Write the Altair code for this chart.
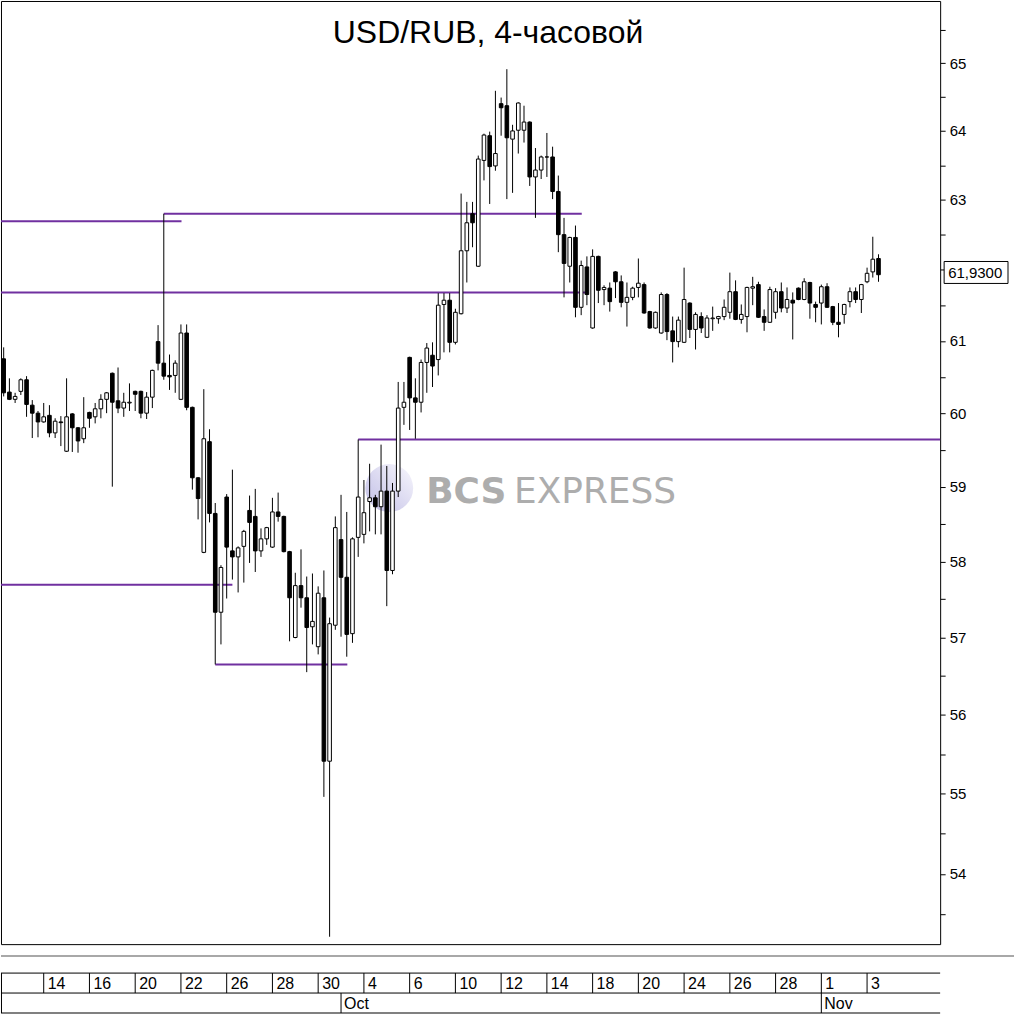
import altair as alt
import pandas as pd

# 4-hour USD/RUB candles, one entry per bar (open, high, low, close)
opens = [60.75, 60.29, 60.19, 60.30, 60.46, 60.11, 60.00, 59.88, 59.97, 59.73,
         59.88, 59.48, 59.99, 59.80, 59.65, 60.01, 59.95, 60.06, 60.19, 60.55,
         60.17, 60.07, 60.14, 60.30, 60.30, 60.00, 60.22, 60.99, 60.69, 60.52,
         60.52, 60.19, 61.11, 60.08, 59.12, 58.12, 59.61, 58.64, 57.33, 58.86,
         58.14, 58.06, 58.20, 58.68, 58.60, 58.14, 58.30, 58.19, 58.66, 58.60,
         58.13, 57.00, 57.68, 57.52, 57.14, 56.88, 57.52, 55.41, 57.16, 58.29,
         57.79, 57.05, 58.32, 58.36, 58.80, 58.85, 58.73, 58.94, 57.88, 58.94,
         60.08, 60.77, 60.21, 60.15, 60.70, 60.80, 60.74, 61.51, 61.57, 60.98,
         61.38, 62.27, 62.80, 62.05, 63.57, 63.93, 63.49, 64.40, 64.37, 63.88,
         64.01, 64.01, 64.13, 63.33, 63.43, 63.62, 63.62, 63.12, 62.50, 62.05,
         62.46, 61.47, 62.04, 61.18, 62.19, 61.72, 61.74, 61.97, 61.83, 61.54,
         61.61, 61.75, 61.79, 61.41, 61.18, 61.11, 61.65, 61.14, 60.99, 60.98,
         61.53, 61.16, 61.34, 61.05, 61.31, 61.31, 61.34, 61.40, 61.69, 61.30,
         61.34, 61.74, 61.79, 61.34, 61.26, 61.40, 61.69, 61.46, 61.57, 61.74,
         61.58, 61.82, 61.51, 61.53, 61.76, 61.48, 61.26, 61.37, 61.55, 61.69,
         61.58, 61.83, 61.97, 62.16]
highs = [60.91, 60.48, 60.28, 60.48, 60.51, 60.18, 60.03, 60.14, 60.11, 59.93,
         59.96, 60.48, 60.00, 59.81, 60.22, 60.02, 60.14, 60.26, 60.29, 60.56,
         60.63, 60.28, 60.41, 60.31, 60.31, 60.29, 60.60, 61.22, 62.80, 60.81,
         60.73, 61.23, 61.23, 60.09, 59.13, 60.33, 59.78, 58.78, 57.95, 58.90,
         59.23, 58.20, 58.42, 58.88, 58.97, 58.44, 58.46, 58.85, 58.92, 58.61,
         58.14, 57.85, 58.16, 57.80, 57.84, 57.67, 57.88, 57.26, 58.60, 58.89,
         58.66, 58.32, 59.64, 59.09, 59.31, 58.89, 59.57, 59.28, 59.05, 60.43,
         60.43, 60.78, 60.48, 60.74, 60.97, 60.98, 61.67, 61.67, 61.67, 61.45,
         63.09, 62.97, 62.97, 63.64, 63.96, 63.99, 64.59, 64.49, 64.91, 64.09,
         64.42, 64.37, 64.14, 63.75, 63.64, 63.97, 63.77, 63.35, 62.74, 62.47,
         62.63, 62.13, 62.19, 62.29, 62.20, 61.78, 61.82, 61.98, 61.92, 61.82,
         61.76, 62.16, 61.82, 61.42, 61.41, 61.68, 61.67, 61.34, 61.34, 62.03,
         61.54, 61.40, 61.40, 61.36, 61.48, 61.35, 61.58, 61.96, 61.85, 61.51,
         61.76, 61.90, 61.83, 61.44, 61.76, 61.74, 61.82, 61.75, 61.68, 61.75,
         61.88, 61.83, 61.55, 61.79, 61.81, 61.49, 61.53, 61.52, 61.75, 61.75,
         61.80, 62.03, 62.47, 62.22]
lows = [60.23, 60.18, 60.14, 60.25, 59.95, 59.66, 59.67, 59.87, 59.67, 59.66,
        59.55, 59.47, 59.47, 59.46, 59.59, 59.80, 59.86, 59.93, 60.00, 59.00,
        60.00, 59.95, 60.03, 60.03, 59.93, 59.92, 60.07, 60.59, 60.46, 60.32,
        60.28, 60.18, 60.04, 58.96, 58.56, 58.11, 58.52, 56.65, 56.91, 57.51,
        57.76, 57.59, 57.72, 57.98, 57.86, 58.06, 58.22, 58.18, 58.53, 58.12,
        56.95, 56.99, 57.39, 56.55, 56.91, 56.78, 54.96, 53.23, 57.10, 57.01,
        56.75, 56.93, 58.06, 58.24, 58.40, 58.36, 58.36, 57.41, 57.83, 58.86,
        59.84, 59.77, 59.65, 60.01, 60.28, 60.36, 60.52, 60.84, 60.84, 60.95,
        61.37, 61.82, 62.32, 62.04, 63.28, 62.94, 63.42, 63.93, 63.01, 63.10,
        63.67, 63.83, 63.20, 62.74, 63.30, 63.33, 63.01, 62.25, 61.61, 61.82,
        61.33, 61.36, 61.50, 61.17, 61.53, 61.50, 61.41, 61.60, 61.47, 61.20,
        61.57, 61.61, 61.38, 61.17, 61.17, 61.10, 61.01, 60.70, 60.91, 60.97,
        61.04, 60.88, 61.11, 61.04, 61.14, 61.24, 61.29, 61.31, 61.29, 61.24,
        61.12, 61.50, 61.32, 61.14, 61.25, 61.31, 61.40, 61.39, 61.02, 61.57,
        61.57, 61.31, 61.26, 61.23, 61.46, 61.22, 61.05, 61.24, 61.47, 61.53,
        61.39, 61.81, 61.89, 61.83]
closes = [60.28, 60.19, 60.23, 60.46, 60.12, 60.00, 59.88, 59.95, 59.73, 59.89,
          59.87, 59.95, 59.80, 59.62, 59.80, 59.93, 60.06, 60.19, 60.28, 60.15,
          60.07, 60.15, 60.15, 60.26, 60.00, 60.22, 60.59, 60.69, 60.51, 60.50,
          60.69, 61.11, 60.08, 59.12, 58.84, 59.65, 58.64, 57.33, 57.92, 58.19,
          58.06, 58.18, 58.40, 58.52, 58.14, 58.30, 58.45, 58.66, 58.60, 58.13,
          57.52, 57.68, 57.52, 57.13, 57.21, 57.58, 55.41, 57.18, 58.45, 57.79,
          57.04, 58.30, 58.86, 58.65, 58.85, 58.73, 58.94, 57.88, 58.94, 60.07,
          60.15, 60.21, 60.15, 60.70, 60.90, 60.65, 61.50, 61.57, 60.98, 61.40,
          62.27, 62.67, 62.67, 63.59, 63.94, 63.48, 63.67, 64.34, 63.90, 64.00,
          64.41, 64.13, 63.33, 63.43, 63.62, 63.62, 63.12, 62.50, 62.09, 62.46,
          61.47, 62.06, 61.65, 62.19, 61.71, 61.75, 61.55, 61.83, 61.54, 61.61,
          61.74, 61.81, 61.39, 61.18, 61.40, 61.65, 61.13, 60.99, 61.29, 61.58,
          61.16, 61.37, 61.18, 61.32, 61.32, 61.34, 61.47, 61.69, 61.30, 61.37,
          61.75, 61.76, 61.33, 61.26, 61.72, 61.69, 61.46, 61.58, 61.53, 61.58,
          61.83, 61.53, 61.47, 61.76, 61.47, 61.26, 61.23, 61.51, 61.69, 61.58,
          61.79, 61.95, 62.15, 61.93]

# Session dates shown on the time strip (every second trading day)
day_labels = ["14", "16", "20", "22", "26", "28", "30", "4", "6", "10",
              "12", "14", "18", "20", "24", "26", "28", "1", "3"]
bars_per_day = 4
first_labelled_bar = 7
month_labels = ["Oct", "Nov"]
month_first_bar = [59, 143]

# Horizontal support / resistance levels (price, first bar, last bar)
X_MIN, X_MAX = -0.47, 163.78
level_price = [62.69, 62.80, 61.68, 59.64, 57.69, 56.65]
level_start = [X_MIN, 28, X_MIN, 62, X_MIN, 37]
level_end = [31.1, 101.1, 102.2, X_MAX, 40.0, 60.1]

title_text = "USD/RUB, 4-часовой"
FONT = "Liberation Sans"
PURPLE = "#7030a0"

candles = pd.DataFrame({"i": range(len(opens)), "open": opens, "high": highs,
                        "low": lows, "close": closes})
levels = pd.DataFrame({"p": level_price, "a": level_start, "b": level_end})
days = pd.DataFrame({"i": [first_labelled_bar + 2 * bars_per_day * k for k in range(len(day_labels))],
                     "lab": day_labels})
months = pd.DataFrame({"i": month_first_bar, "lab": month_labels})
last = pd.DataFrame({"p": [closes[-1]],
                     "lab": [f"{closes[-1]:.4f}".replace(".", ",")]})
one = pd.DataFrame({"k": [0]})

xs = alt.Scale(domain=[X_MIN, X_MAX], nice=False, zero=False, padding=0)
ys = alt.Scale(type="log", domain=[53.14, 65.93], nice=False, zero=False)

tick_values = [53.5 + 0.5 * k for k in range(25)]
y_axis = alt.Axis(orient="right", values=tick_values,
                  labelExpr="(datum.value % 1 == 0 && datum.value != 62) ? format(datum.value, 'd') : ''",
                  tickSize=5, tickColor="black", domain=False, grid=False,
                  labelFont=FONT, labelFontSize=15, labelColor="black",
                  labelPadding=4, labelOverlap=False, title=None)

X = alt.X("i:Q", scale=xs, axis=None)

wicks = alt.Chart(candles).mark_rule(color="black", strokeWidth=1).encode(
    x=X, y=alt.Y("low:Q", scale=ys, axis=y_axis), y2="high:Q")

bodies = alt.Chart(candles).mark_bar(size=3.6, stroke="black", strokeWidth=1).encode(
    x=X, y=alt.Y("open:Q", scale=ys), y2="close:Q",
    fill=alt.condition("datum.close >= datum.open", alt.value("white"), alt.value("black")))

level_lines = alt.Chart(levels).mark_rule(color=PURPLE, strokeWidth=2).encode(
    x=alt.X("a:Q", scale=xs, axis=None), x2="b:Q", y=alt.Y("p:Q", scale=ys))

title = alt.Chart(one).mark_text(font=FONT, fontSize=32, align="center",
                                 baseline="alphabetic", color="black", text=title_text).encode(
    x=alt.value(488), y=alt.value(42))

# watermark
logo = alt.Chart(one).mark_circle(
    size=2300, opacity=0.75,
    fill=alt.LinearGradient(gradient="linear", x1=0, y1=1, x2=1, y2=0,
                            stops=[alt.GradientStop(color="#aaa6dc", offset=0),
                                   alt.GradientStop(color="#f6f5fc", offset=1)])).encode(
    x=alt.value(389), y=alt.value(488))
wm_bold = alt.Chart(one).mark_text(font="DejaVu Sans", fontWeight="bold", fontSize=36,
                                   align="left", baseline="alphabetic", color="#adadad",
                                   text="BCS").encode(x=alt.value(426), y=alt.value(503))
wm_light = alt.Chart(one).mark_text(font="DejaVu Sans", fontSize=36, align="left",
                                    baseline="alphabetic", color="#adadad",
                                    text="EXPRESS").encode(x=alt.value(514), y=alt.value(503))

# last price tag on the price scale
tag_box = alt.Chart(one).mark_rect(fill="white", stroke="black", strokeWidth=1).encode(
    x=alt.value(945), x2=alt.value(1009), y=alt.value(261), y2=alt.value(283))
tag_text = alt.Chart(last).mark_text(font=FONT, fontSize=15, align="left", baseline="middle",
                                     dy=-2, color="black").encode(
    x=alt.value(949), y=alt.Y("p:Q", scale=ys), text="lab:N")

# time strip under the price panel
def hline(y, x0, x1, color="black", w=1):
    return alt.Chart(one).mark_rule(color=color, strokeWidth=w).encode(
        x=alt.value(x0), x2=alt.value(x1), y=alt.value(y))

separator = hline(957, 0, 1015, color="#a8a8a8", w=2)
strip_lines = hline(974, 0, 941) + hline(994, 0, 941) + hline(1014, 0, 941)
strip_left = alt.Chart(one).mark_rule(color="black", strokeWidth=1).encode(
    x=alt.value(0.5), y=alt.value(974), y2=alt.value(1014))

day_ticks = alt.Chart(days).mark_rule(color="black", strokeWidth=1).encode(
    x=X, y=alt.value(974), y2=alt.value(994))
day_text = alt.Chart(days).mark_text(font=FONT, fontSize=16, align="left", dx=4,
                                     baseline="alphabetic", color="black").encode(
    x=X, y=alt.value(990), text="lab:N")
month_ticks = alt.Chart(months).mark_rule(color="black", strokeWidth=1).encode(
    x=X, y=alt.value(994), y2=alt.value(1014))
month_text = alt.Chart(months).mark_text(font=FONT, fontSize=16, align="left", dx=3,
                                         baseline="alphabetic", color="black").encode(
    x=X, y=alt.value(1010), text="lab:N")

chart = alt.layer(
    logo, wm_bold, wm_light, level_lines, wicks, bodies, title,
    tag_box, tag_text, separator, strip_lines, strip_left,
    day_ticks, day_text, month_ticks, month_text
).properties(
    width=941, height=945, padding=0, background="white"
).configure_view(stroke="black", strokeWidth=1)

chart.save("out.html", embed_options={"renderer": "svg", "actions": False})
